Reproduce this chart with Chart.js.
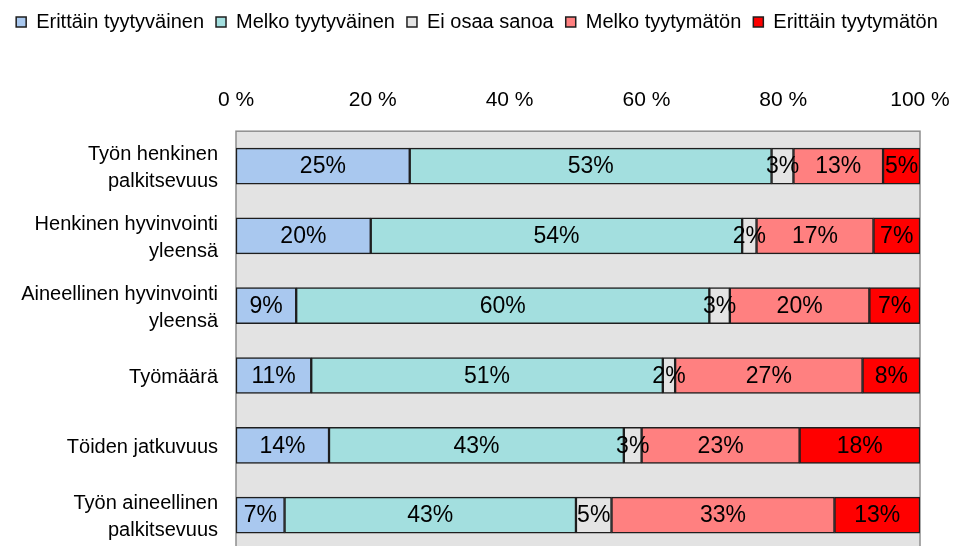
<!DOCTYPE html>
<html>
<head>
<meta charset="utf-8">
<script src="https://cdn.jsdelivr.net/npm/chart.js@4"></script>
<style>
html,body{margin:0;padding:0;overflow:hidden;background:#fff;}
#wrap{width:954px;height:595px;position:relative;}
</style>
</head>
<body>
<div id="wrap"><canvas id="c"></canvas></div>
<script>
const categories = [
  ["Työn henkinen", "palkitsevuus"],
  ["Henkinen hyvinvointi", "yleensä"],
  ["Aineellinen hyvinvointi", "yleensä"],
  "Työmäärä",
  "Töiden jatkuvuus",
  ["Työn aineellinen", "palkitsevuus"]
];
const seriesNames = ["Erittäin tyytyväinen", "Melko tyytyväinen", "Ei osaa sanoa", "Melko tyytymätön", "Erittäin tyytymätön"];
const erittainTyytyvainen = [25.4, 19.7, 8.8, 11.0, 13.6, 7.1];
const melkoTyytyvainen    = [52.9, 54.3, 60.4, 51.4, 43.1, 42.6];
const eiOsaaSanoa         = [3.2, 2.1, 3.0, 1.8, 2.6, 5.2];
const melkoTyytymaton     = [13.1, 17.1, 20.4, 27.4, 23.1, 32.6];
const erittainTyytymaton  = [5.4, 6.8, 7.4, 8.4, 17.6, 12.5];
const tickValues = [0, 20, 40, 60, 80, 100];
const colors = ["#a9c8ef", "#a3dfdf", "#e4e4e4", "#ff8080", "#ff0000"];

const seriesValues = [erittainTyytyvainen, melkoTyytyvainen, eiOsaaSanoa, melkoTyytymaton, erittainTyytymaton];
const FONT = "'Liberation Sans', Arial, sans-serif";

const plotBg = {
  id: 'plotBg',
  beforeDraw(chart) {
    const {ctx, chartArea: a} = chart;
    ctx.save();
    ctx.fillStyle = '#e3e3e3';
    ctx.fillRect(a.left, a.top, a.right - a.left, a.bottom - a.top);
    ctx.strokeStyle = '#8e8e8e';
    ctx.lineWidth = 1.5;
    ctx.strokeRect(a.left, a.top, a.right - a.left, a.bottom - a.top);
    ctx.restore();
  }
};

const barLabels = {
  id: 'barLabels',
  afterDatasetsDraw(chart) {
    const ctx = chart.ctx;
    ctx.save();
    ctx.font = "23px " + FONT;
    ctx.fillStyle = '#000';
    ctx.textAlign = 'center';
    ctx.textBaseline = 'middle';
    chart.data.datasets.forEach((ds, di) => {
      const meta = chart.getDatasetMeta(di);
      meta.data.forEach((el, i) => {
        const v = ds.data[i];
        const x = (el.x + el.base) / 2;
        ctx.fillText(Math.round(v) + '%', x, el.y + 1);
      });
    });
    ctx.restore();
  }
};

new Chart(document.getElementById('c'), {
  type: 'bar',
  data: {
    labels: categories,
    datasets: seriesNames.map((n, k) => ({
      label: n,
      data: seriesValues[k],
      backgroundColor: colors[k],
      borderColor: '#1e1e1e',
      borderWidth: 1.5,
      borderSkipped: false,
      barThickness: 36
    }))
  },
  options: {
    indexAxis: 'y',
    responsive: true,
    maintainAspectRatio: false,
    animation: false,
    layout: { padding: { left: 0, right: 0, top: 0, bottom: 9 } },
    plugins: {
      legend: {
        position: 'top',
        labels: {
          font: { family: FONT, size: 20 },
          color: '#000',
          boxWidth: 10,
          boxHeight: 10,
          padding: 12
        }
      },
      tooltip: { enabled: false }
    },
    scales: {
      x: {
        position: 'top',
        stacked: true,
        min: 0,
        max: 100,
        afterBuildTicks(scale) { scale.ticks = tickValues.map(v => ({ value: v })); },
        afterFit(scale) { scale.height += 28; scale.paddingRight = 34; scale.paddingLeft = 0; },
        ticks: {
          font: { family: FONT, size: 21 },
          color: '#000',
          padding: 18,
          maxRotation: 0,
          callback: v => v + ' %'
        },
        grid: { display: false, drawTicks: false },
        border: { display: false }
      },
      y: {
        stacked: true,
        afterFit(scale) { scale.width = 236; },
        ticks: {
          font: { family: FONT, size: 20, lineHeight: 1.35 },
          color: '#000',
          padding: 18,
          labelOffset: 2
        },
        grid: { display: false, drawTicks: false },
        border: { display: false }
      }
    }
  },
  plugins: [plotBg, barLabels]
});
</script>
</body>
</html>
